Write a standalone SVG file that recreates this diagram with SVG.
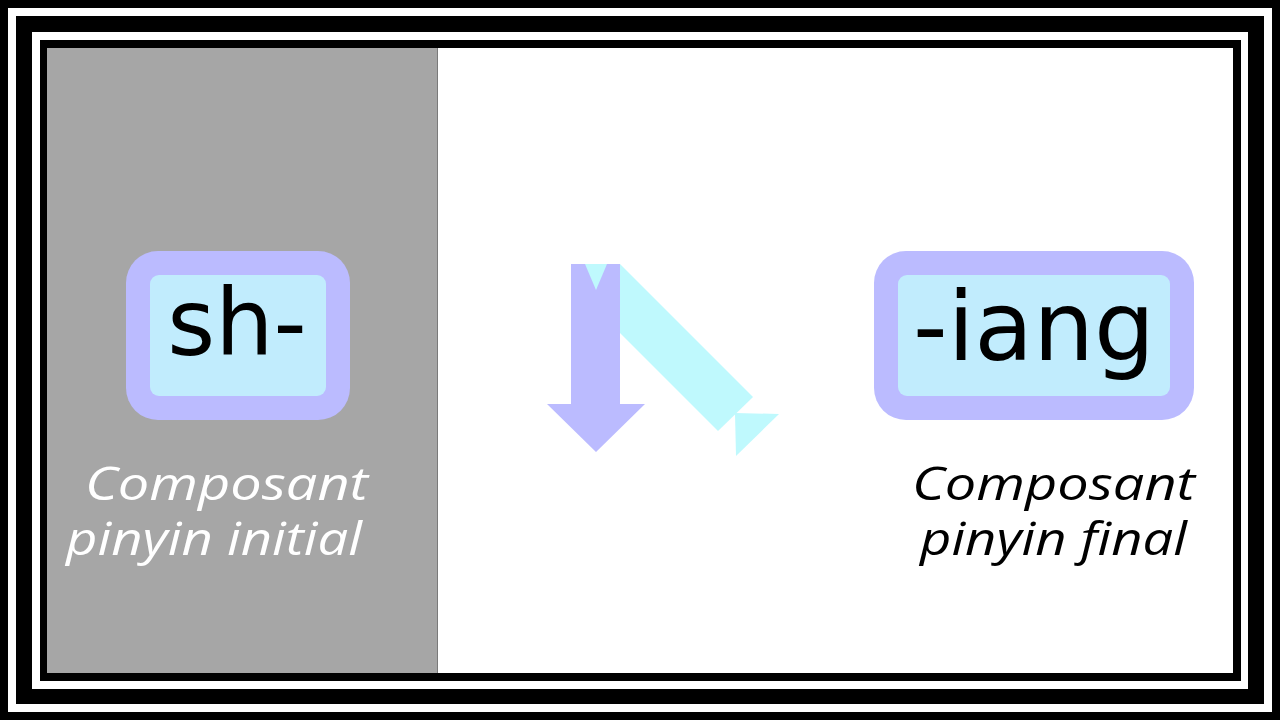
<svg xmlns="http://www.w3.org/2000/svg" width="1280" height="720" viewBox="0 0 1280 720">
  <style>
    .blk{fill:#000}
    .wht{fill:#fff}
    .outer{fill:#bbbbff}
    .inner{fill:#c1ecfd}
    .code{font-family:"DejaVu Sans",sans-serif;fill:#000;text-anchor:middle}
    .lbl{font-family:"Open Sans","Noto Sans",sans-serif;font-style:italic;font-size:46px}
  </style>
  <g id="frame">
    <rect class="blk" x="0" y="0" width="1280" height="720"/>
    <rect class="wht" x="8" y="8" width="1264" height="704"/>
    <rect class="blk" x="16" y="16" width="1248" height="688"/>
    <rect class="wht" x="32" y="32" width="1216" height="657"/>
    <rect class="blk" x="40" y="40" width="1201" height="641"/>
    <rect class="wht" x="47" y="48" width="1186" height="625"/>
    <rect x="47" y="48" width="391" height="625" fill="#a6a6a6"/>
    <line x1="437.5" y1="48" x2="437.5" y2="673" stroke="#7a7a7a" stroke-width="1"/>
  </g>
  <g id="node-initial">
    <rect class="outer" x="126" y="251" width="224" height="169" rx="32"/>
    <rect class="inner" x="150" y="275" width="176" height="121" rx="9"/>
    <text class="code" x="237" y="355" font-size="92">sh-</text>
  </g>
  <g id="node-final">
    <rect class="outer" x="874" y="251" width="320" height="169" rx="32"/>
    <rect class="inner" x="898" y="275" width="272" height="121" rx="9"/>
    <text class="code" x="1034" y="360" font-size="96">-iang</text>
  </g>
  <g id="label-initial">
    <text class="lbl" fill="#fff"><tspan x="85" y="500" textLength="283" lengthAdjust="spacingAndGlyphs">Composant</tspan><tspan x="66" y="555" textLength="296" lengthAdjust="spacingAndGlyphs">pinyin initial</tspan></text>
  </g>
  <g id="label-final">
    <text class="lbl" fill="#000"><tspan x="912" y="500" textLength="283" lengthAdjust="spacingAndGlyphs">Composant</tspan><tspan x="920" y="555" textLength="267" lengthAdjust="spacingAndGlyphs">pinyin final</tspan></text>
  </g>
  <g id="connectors">
    <polygon fill="#bbbbff" points="571,264 620,264 620,404 645,404 596,452 547,404 571,404"/>
    <polygon fill="#bff9fd" points="585,264 607,264 596,290"/>
    <polygon fill="#bff9fd" points="620,264 753,397 718,431 620,333"/>
    <polygon fill="#bff9fd" points="735,413 779,414 736,456"/>
  </g>
</svg>
